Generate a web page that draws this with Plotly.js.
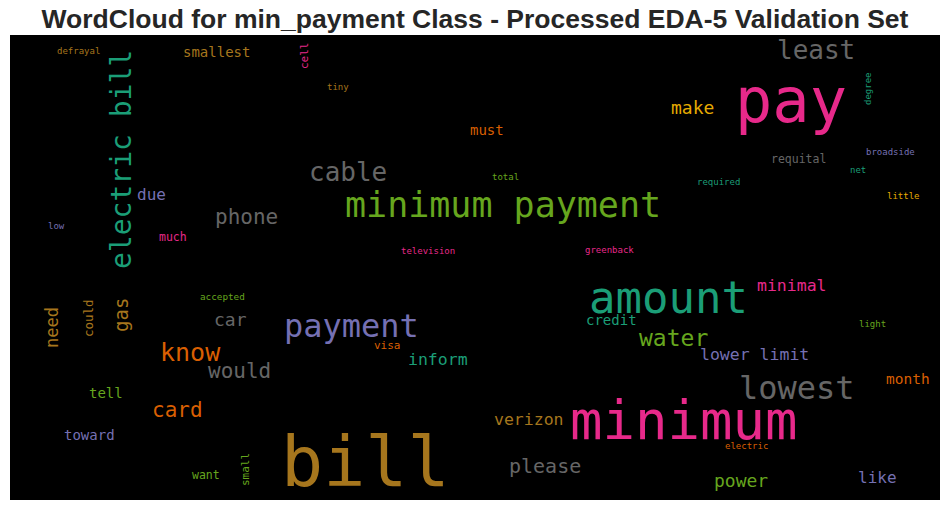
<!DOCTYPE html>
<html>
<head>
<meta charset="utf-8">
<script src="https://cdn.plot.ly/plotly-3.0.1.min.js"></script>
<style>html,body{margin:0;padding:0;background:#fff;}#chart{width:950px;height:511px;}</style>
</head>
<body>
<div id="chart"></div>
<script>
// Word cloud data: word, centre position (pixel-like units), font size, colour, vertical flag
const words = ["pay","bill","minimum","amount","minimum payment","payment","electric bill","lowest","least","cable",
  "phone","know","card","would","water","please","power","verizon","make","minimal",
  "lower limit","gas","need","could","smallest","defrayal","cell","tiny","must","total",
  "required","net","broadside","requital","degree","little","low","due","much","accepted",
  "car","television","greenback","credit","inform","visa","month","light","tell","toward",
  "want","small","electric","like"];
const xs = [791,365,684,668,503,351,121,797,816,348,
  246,190,177,239,673,545,741,529,692,792,
  754,121,52,88,216,78,304,338,487,505,
  718,858,890,798,868,903,56,151,173,222,
  230,428,609,611,438,387,908,872,106,89,
  206,245,746,877];
const ys = [100,462,420,297,205,326,160,388,50,172,
  217,352,410,371,338,466,480,419,107,285,
  354,315,328,318,52,51,56,87,130,177,
  182,170,152,159,89,196,226,194,237,296,
  319,251,250,320,359,345,379,324,393,435,
  475,470,446,477];
const sizes = [62,70,54,44,35,32,28,32,26,26,
  21,25,21,21,23,20,18,16.5,18,16.5,
  16.5,19,17,12.5,14,9,11,9,14,9,
  9,9,9,11.5,9,9,9,16,11.5,9.3,
  18,9,9,14,16.5,11,14.5,9,14,14,
  11.5,11,9,16];
const colors = ["#e7298a","#a6761d","#e7298a","#1b9e77","#66a61e","#7570b3","#1b9e77","#666666","#666666","#666666",
  "#666666","#d95f02","#d95f02","#666666","#66a61e","#666666","#66a61e","#a6761d","#e6ab02","#e7298a",
  "#7570b3","#a6761d","#a6761d","#a6761d","#a6761d","#a6761d","#e7298a","#a6761d","#d95f02","#66a61e",
  "#1b9e77","#1b9e77","#7570b3","#666666","#1b9e77","#e6ab02","#7570b3","#7570b3","#e7298a","#66a61e",
  "#666666","#e7298a","#e7298a","#1b9e77","#1b9e77","#d95f02","#d95f02","#66a61e","#66a61e","#7570b3",
  "#66a61e","#66a61e","#d95f02","#7570b3"];
const vertical = [0,0,0,0,0,0,1,0,0,0,
  0,0,0,0,0,0,0,0,0,0,
  0,1,1,1,0,0,1,0,0,0,
  0,0,0,0,1,0,0,0,0,0,
  0,0,0,0,0,0,0,0,0,0,
  0,1,0,0];

const annotations = words.map((w, i) => ({
  x: xs[i], y: ys[i], xref: 'x', yref: 'y', text: w, showarrow: false,
  xanchor: 'center', yanchor: 'middle', textangle: vertical[i] ? -90 : 0, borderpad: 0,
  font: {family: 'DejaVu Sans Mono, monospace', size: sizes[i], color: colors[i]}
}));

const layout = {
  width: 950, height: 511,
  margin: {l: 10, r: 10, t: 35, b: 11, pad: 0},
  paper_bgcolor: '#ffffff', plot_bgcolor: '#000000',
  title: {text: '<b>WordCloud for min_payment Class - Processed EDA-5 Validation Set</b>',
    x: 0.5, xanchor: 'center', y: 1 - 19/511, yanchor: 'middle', yref: 'container',
    font: {family: 'Liberation Sans, Arial, sans-serif', size: 26.5, color: '#262626'}},
  xaxis: {range: [10, 940], visible: false, fixedrange: true},
  yaxis: {range: [500, 35], visible: false, fixedrange: true},
  annotations: annotations,
  showlegend: false
};
Plotly.newPlot('chart', [{x: [], y: [], type: 'scatter', mode: 'markers', hoverinfo: 'skip'}], layout, {displayModeBar: false, staticPlot: true});
</script>
</body>
</html>
